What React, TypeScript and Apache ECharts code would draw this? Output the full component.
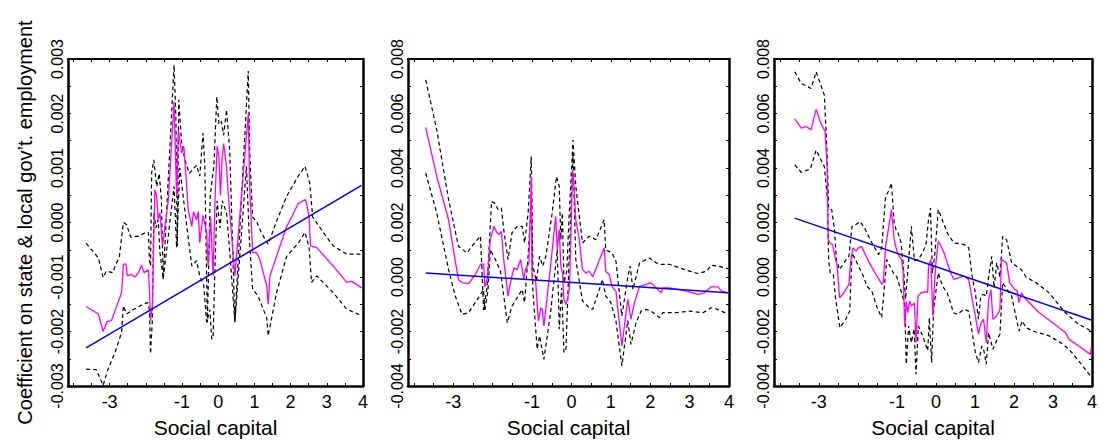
import { useEffect, useRef } from "react";
import * as echarts from "echarts";

// ---- axis values ----
const xLabelValues = [-3, -1, 0, 1, 2, 3, 4];
const xTickValues = [-4, -3.5, -3, -2.5, -2, -1.5, -1, -0.5, 0, 0.5, 1, 1.5, 2, 2.5, 3, 3.5, 4];
const p1YLabels = [-0.003, -0.002, -0.001, 0, 0.001, 0.002, 0.003];
const p1YTicks = [-0.003, -0.0025, -0.002, -0.0015, -0.001, -0.0005, 0, 0.0005, 0.001, 0.0015, 0.002, 0.0025, 0.003];
const p23YLabels = [-0.004, -0.002, 0, 0.002, 0.004, 0.006, 0.008];
const p23YTicks = [-0.004, -0.003, -0.002, -0.001, 0, 0.001, 0.002, 0.003, 0.004, 0.005, 0.006, 0.007, 0.008];

const xTitle = "Social capital";
const yTitle = "Coefficient on state & local gov\u2019t. employment";

// ---- panel 1 ----
const p1Estimate = [[-3.65,-0.00154],[-3.31,-0.00168],[-3.18,-0.0020],[-3.07,-0.00182],[-2.95,-0.0018],[-2.67,-0.00129],[-2.62,-0.00077],[-2.55,-0.00076],[-2.51,-0.00098],[-2.4,-0.00095],[-2.3,-0.001],[-2.2,-0.00092],[-2.12,-0.00078],[-2.05,-0.00092],[-1.93,-0.00087],[-1.9,-0.00123],[-1.87,-0.0018],[-1.82,-0.00154],[-1.75,0.0006],[-1.7,0.00048],[-1.66,0.00006],[-1.61,0.00018],[-1.54,-0.00043],[-1.38,0.0004],[-1.22,0.00222],[-1.15,0.00048],[-1.1,0.0017],[-1.01,0.00127],[-0.95,0.0014],[-0.87,0.00066],[-0.83,0.00024],[-0.73,-0.00007],[-0.68,0.0002],[-0.6,0.00005],[-0.55,0.0002],[-0.51,-0.00037],[-0.42,0.00013],[-0.32,-0.00018],[-0.28,-0.0008],[-0.21,0.0001],[-0.14,-0.00098],[-0.09,0.0004],[-0.03,0.0014],[0.02,0.0012],[0.06,0.0005],[0.11,0.0012],[0.15,0.00145],[0.23,0.00102],[0.28,0.0005],[0.46,-0.00098],[0.83,0.002],[0.87,0.00066],[0.95,-0.00055],[1.06,-0.00055],[1.15,-0.00068],[1.34,-0.00116],[1.38,-0.0015],[1.43,-0.00098],[1.89,-0.00007],[2.03,0.0001],[2.21,0.00035],[2.3,0.00038],[2.4,0.00042],[2.44,0.00036],[2.51,0.0001],[2.55,-0.00043],[2.72,-0.00046],[3.18,-0.0008],[3.55,-0.0011],[3.69,-0.00108],[3.96,-0.0012]];
const p1Upper = [[-3.65,-0.00038],[-3.31,-0.00065],[-3.18,-0.00101],[-3.09,-0.00089],[-2.92,-0.00092],[-2.73,-0.00062],[-2.62,0.0],[-2.53,-0.00004],[-2.42,-0.00027],[-2.2,-0.00025],[-2.05,-0.0002],[-1.93,-0.00018],[-1.9,-0.00068],[-1.87,-0.0008],[-1.84,0.0009],[-1.78,0.00115],[-1.7,0.00066],[-1.63,0.0009],[-1.57,0.00042],[-1.52,-0.00104],[-1.22,0.00289],[-1.17,0.00194],[-1.13,-0.00043],[-1.09,0.00225],[-1.01,0.00146],[-0.92,0.00115],[-0.8,0.0009],[-0.6,0.00105],[-0.51,0.00085],[-0.42,0.00164],[-0.37,0.00103],[-0.3,-0.00183],[-0.22,0.0005],[-0.12,0.00103],[-0.04,0.00231],[0.02,0.0018],[0.09,0.00185],[0.15,0.0016],[0.23,0.00207],[0.32,0.0013],[0.46,-0.00183],[0.83,0.00278],[0.87,0.0013],[0.95,0.0001],[1.06,0.00002],[1.2,-0.0002],[1.38,-0.0004],[1.61,0.00002],[1.89,0.00048],[2.21,0.00085],[2.4,0.00103],[2.53,0.00072],[2.61,0.0001],[2.9,-0.00018],[3.18,-0.00043],[3.55,-0.00058],[3.96,-0.00058]];
const p1Lower = [[-3.65,-0.00269],[-3.37,-0.0027],[-3.18,-0.00299],[-3.05,-0.0027],[-2.85,-0.00238],[-2.67,-0.00202],[-2.62,-0.00153],[-2.53,-0.00168],[-2.35,-0.0016],[-2.08,-0.0015],[-1.95,-0.00147],[-1.9,-0.0016],[-1.87,-0.00241],[-1.82,-0.0018],[-1.78,0.00018],[-1.72,-0.0001],[-1.66,0.00005],[-1.61,-0.00055],[-1.52,-0.00104],[-1.22,0.00066],[-1.15,-0.00046],[-1.06,0.001],[-0.9,0.0001],[-0.73,-0.0008],[-0.6,-0.0007],[-0.51,-0.00098],[-0.4,-0.00115],[-0.32,-0.00183],[-0.23,-0.0016],[-0.18,-0.00214],[-0.14,-0.0021],[-0.09,-0.0008],[-0.03,0.0004],[0.05,-0.0001],[0.11,0.0004],[0.23,0.00018],[0.32,-0.00055],[0.46,-0.00183],[0.78,0.00103],[0.86,-0.0003],[0.95,-0.00122],[1.1,-0.00135],[1.34,-0.00175],[1.38,-0.00208],[1.61,-0.00129],[1.89,-0.00062],[2.21,-0.00038],[2.4,-0.00018],[2.51,-0.00046],[2.58,-0.0011],[2.72,-0.00098],[3.18,-0.00129],[3.55,-0.00159],[3.96,-0.00171]];
const p1Fit = [[-3.65,-0.0023],[3.96,0.00068]];

// ---- panel 2 ----
const p2Estimate = [[-3.7,0.00549],[-3.42,0.00369],[-3.12,0.0021],[-2.97,0.00076],[-2.87,-0.00009],[-2.78,-0.00021],[-2.61,-0.00024],[-2.44,0.0001],[-2.31,0.00046],[-2.23,0.00048],[-2.2,-0.00036],[-2.14,-0.00009],[-2.06,0.00137],[-1.97,0.00186],[-1.89,0.00162],[-1.83,0.00156],[-1.78,0.00168],[-1.72,0.00064],[-1.61,-0.0007],[-1.55,-0.00021],[-1.46,0.00034],[-1.38,0.00027],[-1.29,0.00064],[-1.21,-0.00009],[-1.17,0.00027],[-1.08,0.0005],[-1.02,0.00369],[-1.0,-0.00009],[-0.91,-0.00015],[-0.84,-0.00162],[-0.78,-0.00113],[-0.74,-0.00119],[-0.7,-0.0018],[-0.53,0.0004],[-0.4,0.00223],[-0.36,0.00101],[-0.31,0.00174],[-0.27,0.0004],[-0.23,0.00015],[-0.19,-0.00082],[-0.14,-0.00101],[-0.1,-0.00082],[-0.05,-0.0004],[0.03,0.00393],[0.07,0.0032],[0.11,0.0021],[0.2,0.00137],[0.28,0.00027],[0.37,0.00015],[0.45,0.00021],[0.54,0.0],[0.83,0.00107],[0.87,0.00021],[0.96,0.00009],[1.03,-0.00034],[1.09,-0.00046],[1.13,-0.00052],[1.28,-0.00253],[1.43,-0.00082],[1.51,-0.00155],[1.6,-0.00094],[1.73,-0.00034],[1.9,-0.00027],[2.02,-0.00021],[2.15,-0.0004],[2.28,-0.00058],[2.32,-0.0004],[2.49,-0.0004],[2.92,-0.00052],[3.21,-0.00064],[3.38,-0.00058],[3.55,-0.00036],[3.72,-0.00036],[3.81,-0.00052],[3.98,-0.00058]];
const p2Upper = [[-3.7,0.00723],[-3.42,0.0054],[-3.12,0.00284],[-2.87,0.00113],[-2.65,0.00088],[-2.53,0.00113],[-2.31,0.0015],[-2.23,-0.00121],[-2.14,-0.00034],[-2.03,0.00277],[-1.95,0.00271],[-1.86,0.00247],[-1.78,0.00253],[-1.72,0.00174],[-1.61,0.00064],[-1.51,0.00162],[-1.38,0.00186],[-1.25,0.00186],[-1.19,0.00125],[-1.1,0.00235],[-1.02,0.00442],[-0.98,0.0004],[-0.89,-0.00015],[-0.81,0.00076],[-0.73,0.0004],[-0.65,0.00076],[-0.5,0.00223],[-0.38,0.00369],[-0.31,0.00332],[-0.27,0.00137],[-0.23,0.00235],[-0.19,-0.00021],[-0.12,0.0002],[-0.06,0.00223],[0.04,0.00503],[0.11,0.00332],[0.28,0.00125],[0.45,0.0015],[0.62,0.00137],[0.83,0.0021],[0.87,0.001],[1.03,0.00088],[1.13,0.00058],[1.28,-0.00143],[1.43,0.0],[1.49,0.0004],[1.56,-0.00046],[1.73,0.00052],[1.98,0.0007],[2.15,0.00052],[2.28,0.00046],[2.49,0.00046],[2.92,0.00025],[3.21,0.00013],[3.43,0.00021],[3.55,0.00043],[3.72,0.0004],[3.98,0.0003]];
const p2Lower = [[-3.7,0.00381],[-3.42,0.00235],[-3.12,0.00027],[-2.95,-0.0007],[-2.78,-0.00137],[-2.61,-0.00131],[-2.23,-0.00046],[-2.2,-0.00125],[-2.12,-0.0005],[-2.06,0.00101],[-1.93,0.00064],[-1.8,0.0002],[-1.63,-0.00168],[-1.51,-0.00107],[-1.25,-0.00046],[-1.19,-0.00094],[-1.1,0.0008],[-1.02,0.00271],[-0.98,-0.0005],[-0.87,-0.00265],[-0.81,-0.00216],[-0.7,-0.00302],[-0.53,-0.00131],[-0.36,0.00101],[-0.31,-0.00192],[-0.25,-0.0004],[-0.19,-0.00277],[-0.14,-0.00265],[-0.08,-0.0002],[-0.02,0.00223],[0.04,0.00454],[0.11,0.00064],[0.28,-0.00088],[0.45,-0.00113],[0.54,-0.00119],[0.79,-0.00009],[0.87,-0.0007],[1.0,-0.00094],[1.13,-0.00162],[1.28,-0.00326],[1.43,-0.0016],[1.51,-0.00247],[1.64,-0.00168],[1.77,-0.00125],[1.9,-0.00119],[2.02,-0.00125],[2.24,-0.00149],[2.32,-0.00131],[2.66,-0.00131],[3.0,-0.00125],[3.34,-0.00131],[3.55,-0.00113],[3.72,-0.00119],[3.98,-0.00137]];
const p2Fit = [[-3.7,0.00015],[3.98,-0.00058]];

// ---- panel 3 ----
const p3Estimate = [[-3.62,0.0058],[-3.45,0.00546],[-3.32,0.00552],[-3.2,0.0054],[-3.14,0.00576],[-3.07,0.00615],[-2.95,0.00564],[-2.84,0.00534],[-2.79,0.00405],[-2.76,0.00137],[-2.72,0.00125],[-2.65,0.00119],[-2.58,0.0007],[-2.53,0.0004],[-2.47,-0.00076],[-2.36,-0.00058],[-2.23,-0.00027],[-2.19,0.00052],[-2.13,0.00107],[-2.05,0.00095],[-1.98,0.00107],[-1.91,0.00113],[-1.85,0.00095],[-1.73,0.00058],[-1.56,0.00015],[-1.43,-0.00015],[-1.39,-0.00027],[-1.35,-0.00021],[-1.29,0.00113],[-1.22,0.00174],[-1.14,0.00247],[-1.07,0.00137],[-1.01,0.00101],[-0.97,0.00082],[-0.88,0.00064],[-0.84,0.0002],[-0.8,-0.0018],[-0.76,-0.0009],[-0.72,-0.00131],[-0.67,-0.00088],[-0.63,-0.00107],[-0.55,-0.00095],[-0.51,-0.00241],[-0.46,-0.0007],[-0.38,-0.00058],[-0.29,-0.00055],[-0.21,-0.00055],[-0.19,0.0004],[-0.13,0.00064],[-0.08,-0.00143],[-0.04,-0.0003],[0.0,0.00052],[0.06,0.00131],[0.13,0.00113],[0.21,0.00088],[0.29,0.00052],[0.38,0.00015],[0.46,-0.00009],[0.6,-0.00002],[0.72,0.00003],[0.84,-0.00009],[0.93,-0.00082],[1.01,-0.00143],[1.09,-0.0021],[1.15,-0.0017],[1.22,-0.00155],[1.29,-0.00241],[1.35,-0.00082],[1.41,-0.00046],[1.46,-0.00155],[1.56,-0.00143],[1.64,-0.00119],[1.68,0.00064],[1.81,0.00052],[1.89,-0.00021],[2.02,-0.00046],[2.08,-0.0005],[2.13,-0.00094],[2.19,-0.00058],[2.27,-0.00076],[2.65,-0.00131],[2.99,-0.00168],[3.32,-0.00204],[3.41,-0.00229],[3.66,-0.00253],[3.96,-0.00284],[3.98,-0.00259]];
const p3Upper = [[-3.62,0.00753],[-3.45,0.0071],[-3.2,0.00692],[-3.07,0.00753],[-2.86,0.00668],[-2.79,0.00454],[-2.75,0.00253],[-2.67,0.00247],[-2.6,0.00174],[-2.55,0.00064],[-2.47,0.00027],[-2.36,0.00052],[-2.23,0.00076],[-2.15,0.00186],[-2.06,0.00192],[-1.94,0.00204],[-1.81,0.00174],[-1.64,0.00125],[-1.47,0.00082],[-1.39,0.00107],[-1.29,0.00296],[-1.22,0.00314],[-1.14,0.00345],[-1.07,0.00198],[-1.01,0.00168],[-0.97,0.00162],[-0.9,0.0013],[-0.84,0.00052],[-0.78,-0.00082],[-0.72,0.0002],[-0.63,0.00186],[-0.55,0.0006],[-0.46,0.00064],[-0.34,0.00088],[-0.25,0.00125],[-0.19,0.0021],[-0.14,0.00253],[-0.09,0.00015],[-0.03,0.0008],[0.06,0.00247],[0.13,0.00223],[0.29,0.00162],[0.46,0.00125],[0.72,0.00119],[0.84,0.00107],[0.93,0.0],[1.01,-0.00058],[1.09,-0.00155],[1.15,-0.0007],[1.22,-0.00064],[1.29,-0.0007],[1.35,0.0],[1.43,0.00076],[1.49,-0.0004],[1.56,0.00052],[1.64,0.0],[1.71,0.00149],[1.81,0.00137],[1.94,0.00052],[2.06,0.0004],[2.19,0.00027],[2.31,0.0],[2.57,-0.00021],[2.9,-0.00058],[3.28,-0.00125],[3.41,-0.00143],[3.66,-0.00174],[3.98,-0.00198]];
const p3Lower = [[-3.62,0.00412],[-3.45,0.00384],[-3.22,0.00396],[-3.07,0.00466],[-2.86,0.00405],[-2.78,0.00284],[-2.75,0.00064],[-2.71,0.00015],[-2.63,0.00009],[-2.57,-0.00082],[-2.46,-0.00186],[-2.31,-0.00155],[-2.21,-0.00125],[-2.15,0.00088],[-2.05,0.0006],[-1.94,0.00027],[-1.85,0.0],[-1.77,-0.00034],[-1.64,-0.00052],[-1.52,-0.00107],[-1.39,-0.00149],[-1.26,0.00064],[-1.18,0.0004],[-1.09,0.00015],[-1.0,0.0],[-0.88,-0.00058],[-0.8,-0.001],[-0.76,-0.0032],[-0.7,-0.0018],[-0.63,-0.00241],[-0.56,-0.0019],[-0.51,-0.00357],[-0.45,-0.0018],[-0.34,-0.00216],[-0.28,-0.0024],[-0.21,-0.00271],[-0.17,-0.0015],[-0.11,-0.00314],[-0.06,-0.0012],[0.06,0.00015],[0.17,-0.00034],[0.29,-0.00058],[0.45,-0.00131],[0.55,-0.00137],[0.72,-0.00119],[0.84,-0.00125],[0.93,-0.00204],[1.01,-0.00277],[1.09,-0.00314],[1.18,-0.00253],[1.23,-0.0027],[1.29,-0.0032],[1.35,-0.00204],[1.46,-0.00265],[1.57,-0.00229],[1.64,-0.0021],[1.71,-0.00021],[1.8,-0.0004],[1.94,-0.0007],[2.13,-0.00198],[2.21,-0.00161],[2.31,-0.00186],[2.48,-0.00198],[2.9,-0.00216],[3.2,-0.00241],[3.41,-0.00265],[3.66,-0.00308],[3.96,-0.00363]];
const p3Fit = [[-3.62,0.00216],[3.98,-0.00158]];

const FONT = "Liberation Sans, Arial, Helvetica, sans-serif";

type Panel = {
  yMin: number; yMax: number; yLabels: number[]; yTicks: number[];
  upper: number[][]; lower: number[][]; est: number[][]; fit: number[][];
  yName?: string;
};

const panels: Panel[] = [
  { yMin: -0.003, yMax: 0.003, yLabels: p1YLabels, yTicks: p1YTicks, upper: p1Upper, lower: p1Lower, est: p1Estimate, fit: p1Fit, yName: yTitle },
  { yMin: -0.004, yMax: 0.008, yLabels: p23YLabels, yTicks: p23YTicks, upper: p2Upper, lower: p2Lower, est: p2Estimate, fit: p2Fit },
  { yMin: -0.004, yMax: 0.008, yLabels: p23YLabels, yTicks: p23YTicks, upper: p3Upper, lower: p3Lower, est: p3Estimate, fit: p3Fit },
];

const grids = [
  { left: 68, top: 59, width: 295, height: 328 },
  { left: 408, top: 59, width: 321, height: 328 },
  { left: 774, top: 59, width: 321, height: 328 },
];

function buildOption() {
  const xAxis: any[] = [];
  const yAxis: any[] = [];
  const series: any[] = [];
  const tickStyle = { show: true, inside: true, length: 3, lineStyle: { color: "#000", width: 1 } };
  panels.forEach((p, i) => {
    xAxis.push({
      type: "value", gridIndex: i, position: "bottom", min: -4.15, max: 4,
      axisLine: { show: true, onZero: false, lineStyle: { color: "#000", width: 2.5 } },
      axisTick: { ...tickStyle, customValues: xTickValues },
      axisLabel: { show: true, customValues: xLabelValues, margin: 7, color: "#000", fontSize: 18, fontFamily: FONT, formatter: (v: number) => String(v) },
      splitLine: { show: false },
      name: xTitle, nameLocation: "middle", nameGap: 31,
      nameTextStyle: { color: "#000", fontSize: 21, fontFamily: FONT },
    });
    xAxis.push({
      type: "value", gridIndex: i, position: "top", min: -4.15, max: 4,
      axisLine: { show: true, onZero: false, lineStyle: { color: "#000", width: 2 } },
      axisTick: { ...tickStyle, customValues: xTickValues },
      axisLabel: { show: false }, splitLine: { show: false },
    });
    yAxis.push({
      type: "value", gridIndex: i, position: "left", min: p.yMin, max: p.yMax,
      axisLine: { show: true, onZero: false, lineStyle: { color: "#000", width: 2.5 } },
      axisTick: { ...tickStyle, customValues: p.yTicks },
      axisLabel: { show: true, customValues: p.yLabels, rotate: 90, margin: 3, color: "#000", fontSize: 16, fontFamily: FONT, formatter: (v: number) => v.toFixed(3) },
      splitLine: { show: false },
      name: p.yName || "", nameLocation: "middle", nameRotate: 90, nameGap: 33,
      nameTextStyle: { color: "#000", fontSize: 20, fontFamily: FONT },
    });
    yAxis.push({
      type: "value", gridIndex: i, position: "right", min: p.yMin, max: p.yMax,
      axisLine: { show: true, onZero: false, lineStyle: { color: "#000", width: 2.5 } },
      axisTick: { ...tickStyle, customValues: p.yTicks },
      axisLabel: { show: false }, splitLine: { show: false },
    });
    const common = { type: "line", xAxisIndex: i * 2, yAxisIndex: i * 2, symbol: "none", showSymbol: false, silent: true, clip: true };
    series.push({ ...common, data: p.upper, lineStyle: { color: "#000", width: 1.2, type: [4, 3] } });
    series.push({ ...common, data: p.lower, lineStyle: { color: "#000", width: 1.2, type: [4, 3] } });
    series.push({ ...common, data: p.est, lineStyle: { color: "#ff00ff", width: 1.3 } });
    series.push({ ...common, data: p.fit, lineStyle: { color: "#0000ff", width: 1.5 } });
  });
  return { animation: false, backgroundColor: "#fff", grid: grids, xAxis, yAxis, series };
}

export default function App() {
  const ref = useRef<HTMLDivElement>(null);
  useEffect(() => {
    if (!ref.current) return;
    const chart = echarts.init(ref.current, null, { renderer: "svg" });
    chart.setOption(buildOption() as any);
    return () => chart.dispose();
  }, []);
  return <div ref={ref} style={{ position: "absolute", left: 0, top: 0, width: 1100, height: 443, background: "#fff" }} />;
}
